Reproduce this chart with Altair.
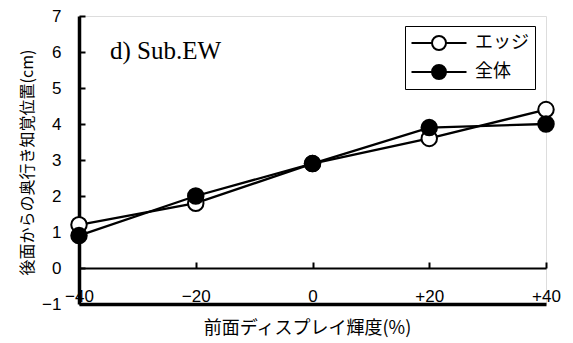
import altair as alt
import pandas as pd

# ---- data ----
x_vals = [-40, -20, 0, 20, 40]
edge_vals = [1.2, 1.8, 2.9, 3.6, 4.4]
whole_vals = [0.9, 2.0, 2.9, 3.9, 4.0]
series_names = ["エッジ", "全体"]
x_ticks = [-40, -20, 0, 20, 40]
y_ticks = [-1, 0, 1, 2, 3, 4, 5, 6, 7]
panel_label = "d) Sub.EW"
x_title = "前面ディスプレイ輝度(%)"
y_title = "後面からの奥行き知覚位置(cm)"

rows = []
for xv, e, w in zip(x_vals, edge_vals, whole_vals):
    rows.append({"x": xv, "y": e, "series": series_names[0]})
    rows.append({"x": xv, "y": w, "series": series_names[1]})
df = pd.DataFrame(rows)

W, H = 467, 288
JP = "Noto Sans CJK JP"
LAT = "Liberation Sans"

xscale = alt.Scale(domain=[-40, 40], nice=False, zero=False)
yscale = alt.Scale(domain=[-1, 7], nice=False, zero=False)

# legend glyph: a line with a circle in the middle (unit = sqrt(size)/2)
legend_path = ("M-2.75,0L-0.7,0M0.7,0L2.75,0"
               "M0.7,0A0.7,0.7,0,1,1,-0.7,0A0.7,0.7,0,1,1,0.7,0Z")

base = alt.Chart(df)

lines = base.mark_line(color="black", strokeWidth=2.3).encode(
    x=alt.X("x:Q", scale=xscale,
            axis=alt.Axis(orient="bottom", values=x_ticks, ticks=False, tickSize=0,
                          grid=False, domainColor="black", domainWidth=3.5,
                          labelFont=LAT, labelFontSize=17, labelColor="black",
                          labelBaseline="alphabetic", labelPadding=-3,
                          labelFlush=False, labelOverlap=False,
                          labelExpr="datum.value > 0 ? '+' + datum.label : datum.label",
                          title=x_title, titleFont=JP, titleFontSize=18,
                          titleFontWeight="normal", titleColor="black",
                          titleX=228, titleY=24, titleBaseline="middle", titleAlign="center")),
    y=alt.Y("y:Q", scale=yscale,
            axis=alt.Axis(orient="left", values=y_ticks, ticks=False, tickSize=0,
                          grid=False, domainColor="black", domainWidth=3.5,
                          labelFont=LAT, labelFontSize=17, labelColor="black",
                          labelPadding=18, labelOverlap=False, labelFlush=False,
                          title=y_title, titleFont=JP, titleFontSize=16,
                          titleFontWeight="normal", titleColor="black",
                          titleX=-52, titleY=146, titleAngle=-90,
                          titleBaseline="middle", titleAlign="center")),
    detail="series:N",
)

points = base.mark_point(filled=True, size=240, stroke="black", strokeWidth=2, opacity=1).encode(
    x=alt.X("x:Q", scale=xscale,
            axis=alt.Axis(orient="top", offset=-252, values=x_ticks, labels=False,
                          ticks=True, tickSize=6, tickWidth=2, tickColor="black",
                          domain=True, domainColor="black", domainWidth=2,
                          grid=False, title=None)),
    y=alt.Y("y:Q", scale=yscale,
            axis=alt.Axis(orient="right", offset=-W, values=y_ticks, labels=False,
                          ticks=True, tickSize=6, tickWidth=2, tickColor="black",
                          domain=False, grid=False, title=None)),
    fill=alt.Fill("series:N",
                  scale=alt.Scale(domain=series_names, range=["white", "black"]),
                  legend=alt.Legend(title=None, orient="none", legendX=326, legendY=10,
                                    symbolType=legend_path, symbolSize=400,
                                    symbolOffset=17,
                                    symbolStrokeColor="black", symbolStrokeWidth=2,
                                    symbolOpacity=1,
                                    labelFont=JP, labelFontSize=18, labelColor="black",
                                    labelOffset=25, rowPadding=7, padding=6,
                                    strokeColor="black", fillColor="white")),
)

label_df = pd.DataFrame({"t": [panel_label]})
label = alt.Chart(label_df).mark_text(
    font="Liberation Serif", fontSize=25, align="left", baseline="middle", color="black"
).encode(text="t:N", x=alt.value(31), y=alt.value(35))

chart = alt.layer(lines, points, label).resolve_axis(
    x="independent", y="independent"
).properties(
    width=W, height=H,
    padding={"left": 79, "top": 16, "right": 27, "bottom": 39},
    autosize=alt.AutoSizeParams(type="none"),
).configure_view(stroke="black", strokeWidth=2.5).configure_legend(
    strokeWidth=2
).configure(background="white")

chart.save("out.html", embed_options={"renderer": "svg", "actions": False})
